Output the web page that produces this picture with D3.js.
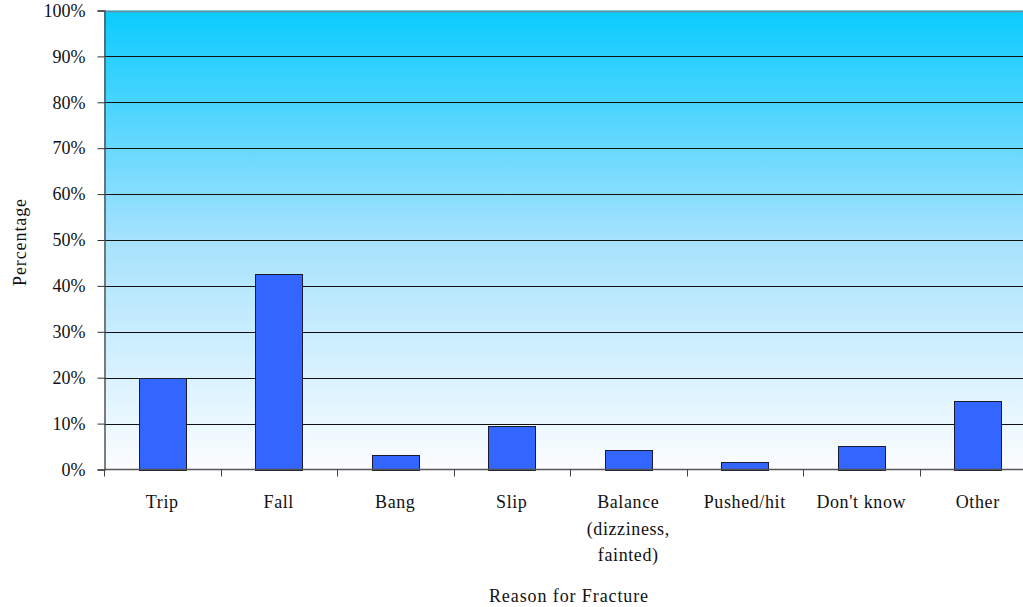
<!doctype html>
<style>
body { margin: 0; background: #fff; }
svg { display: block; font-family: "Liberation Serif", "Times New Roman", serif; }
</style>
<div id="chart"></div>
<script src="https://cdn.jsdelivr.net/npm/d3@7"></script>
<script>
// data
var categories = ['Trip', 'Fall', 'Bang', 'Slip', 'Balance\n(dizziness,\nfainted)', 'Pushed/hit', "Don't know", 'Other'];
var percentages = [20, 42.5, 3.1, 9.5, 4.2, 1.6, 5.1, 15];
var yTicks = [0, 10, 20, 30, 40, 50, 60, 70, 80, 90, 100];

var width = 1023, height = 607;
var plotLeft = 104, plotTop = 10.5, plotRight = 1036, plotBottom = 469.5;
var serif = '"Liberation Serif", "Times New Roman", serif';

var svg = d3.select('#chart').append('svg')
    .attr('width', width)
    .attr('height', height);

var grad = svg.append('defs').append('linearGradient')
    .attr('id', 'bg')
    .attr('x1', 0).attr('y1', 0).attr('x2', 0).attr('y2', 1);
grad.append('stop').attr('offset', '0%').attr('stop-color', '#0acbff');
grad.append('stop').attr('offset', '50%').attr('stop-color', '#a6e2fd');
grad.append('stop').attr('offset', '100%').attr('stop-color', '#fcfdff');

var x = d3.scaleBand()
    .domain(categories)
    .range([plotLeft, plotRight])
    .paddingInner(0.6)
    .paddingOuter(0.3);

var y = d3.scaleLinear()
    .domain([0, 100])
    .range([plotBottom, plotTop]);

// plot background
svg.append('rect')
    .attr('x', plotLeft).attr('y', plotTop)
    .attr('width', plotRight - plotLeft).attr('height', plotBottom - plotTop)
    .attr('fill', 'url(#bg)');

// gridlines
svg.append('g').selectAll('line')
    .data(yTicks.filter(function (d) { return d > 0; }))
    .enter().append('line')
    .attr('x1', plotLeft).attr('x2', plotRight)
    .attr('y1', function (d) { return Math.round(y(d)) + 0.5; })
    .attr('y2', function (d) { return Math.round(y(d)) + 0.5; })
    .attr('stroke', function (d) { return d === 100 ? '#6c8a96' : '#111'; })
    .attr('stroke-width', function (d) { return d === 100 ? 1.5 : 1; });

// bars
svg.append('g').selectAll('rect')
    .data(percentages)
    .enter().append('rect')
    .attr('x', function (d, i) { return Math.round(x(categories[i])) + 0.5; })
    .attr('y', function (d) { return Math.round(y(d)) + 0.5; })
    .attr('width', Math.round(x.bandwidth()))
    .attr('height', function (d) { return Math.round(y(0)) - Math.round(y(d)); })
    .attr('fill', '#3366ff')
    .attr('stroke', '#1a1a33')
    .attr('stroke-width', 1);

// y axis
var yAxis = d3.axisLeft(y)
    .tickValues(yTicks)
    .tickSize(7)
    .tickPadding(12)
    .tickFormat(function (d) { return d + '%'; });
var gy = svg.append('g')
    .attr('transform', 'translate(' + (plotLeft + 0.5) + ',0)')
    .call(yAxis)
    .attr('font-family', serif)
    .attr('font-size', 18);
gy.select('.domain').attr('stroke', '#555').attr('stroke-width', 1.5);
gy.selectAll('.tick line').attr('stroke', '#333');
gy.selectAll('.tick text').attr('fill', '#111');

// x axis baseline and boundary ticks
svg.append('line')
    .attr('x1', plotLeft).attr('x2', plotRight)
    .attr('y1', plotBottom).attr('y2', plotBottom)
    .attr('stroke', '#555').attr('stroke-width', 1.5);
svg.append('g').selectAll('line')
    .data(categories)
    .enter().append('line')
    .attr('x1', function (c) { return Math.round(x(c) + x.bandwidth() / 2 - x.step() / 2) + 0.5; })
    .attr('x2', function (c) { return Math.round(x(c) + x.bandwidth() / 2 - x.step() / 2) + 0.5; })
    .attr('y1', plotBottom).attr('y2', plotBottom + 7)
    .attr('stroke', '#444');

// category labels
var labels = svg.append('g').selectAll('text')
    .data(categories)
    .enter().append('text')
    .attr('x', function (c) { return x(c) + x.bandwidth() / 2; })
    .attr('y', 508)
    .attr('text-anchor', 'middle')
    .attr('fill', '#111')
    .style('font-size', '18px')
    .style('letter-spacing', '0.6px');
labels.selectAll('tspan')
    .data(function (c) { return c.split('\n'); })
    .enter().append('tspan')
    .attr('x', function () { return d3.select(this.parentNode).attr('x'); })
    .attr('dy', function (d, i) { return i === 0 ? 0 : 26.5; })
    .text(function (d) { return d; });

// axis titles
svg.append('text')
    .attr('x', 569).attr('y', 602)
    .attr('text-anchor', 'middle')
    .attr('fill', '#111')
    .style('font-size', '18px')
    .style('letter-spacing', '0.9px')
    .text('Reason for Fracture');

svg.append('text')
    .attr('transform', 'translate(26,242) rotate(-90)')
    .attr('text-anchor', 'middle')
    .attr('fill', '#111')
    .style('font-size', '18px')
    .style('letter-spacing', '0.9px')
    .text('Percentage');
</script>
